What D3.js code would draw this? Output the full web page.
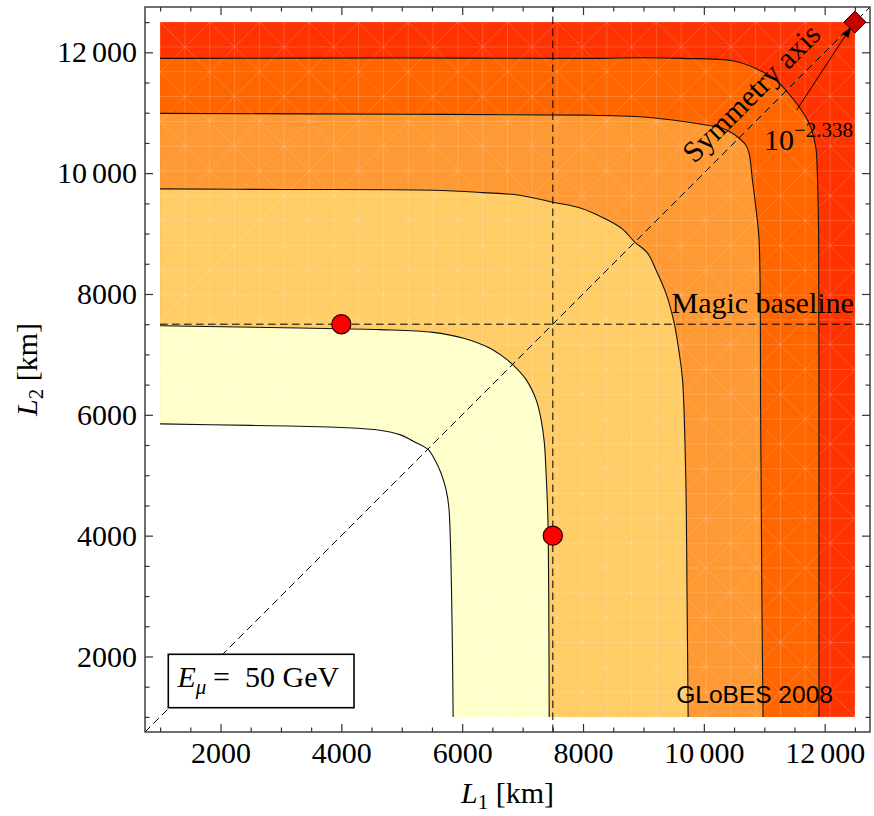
<!DOCTYPE html>
<html>
<head>
<meta charset="utf-8">
<script src="https://cdn.jsdelivr.net/npm/d3@7"></script>
<style>
  html, body { margin: 0; padding: 0; background: #fff; }
  svg { display: block; }
</style>
</head>
<body>
<svg id="chart" width="874" height="816"></svg>
<script>
// ---- data: iso-contours of the performance indicator in the (L1, L2) plane [km]
// each contour runs from the left edge (L1 = 1000) to the bottom edge (L2 = 1000)
const contour1 = [[1000,5850],[2500,5825],[3300,5810],[4000,5790],[4636,5745],[4968,5672],[5190,5562],
  [5439,5424],[5549,5252],[5651,5032],[5734,4756],[5778,4479],[5801,4039],[5825,3000],[5840,2000],[5850,1000]];
const contour2 = [[1000,7474],[3300,7436],[4636,7410],[5514,7365],[6010,7271],[6451,7106],[6671,6967],
  [6837,6830],[7058,6582],[7223,6251],[7306,5921],[7360,5536],[7388,5040],[7418,4300],[7432,3000],[7440,1000]];
const contour3 = [[1000,9739],[3000,9730],[5514,9717],[6340,9678],[6947,9635],[7498,9519],[7967,9420],
  [8380,9238],[8655,9073],[8848,8868],[9068,8676],[9207,8400],[9372,8015],[9509,7519],[9592,7023],
  [9647,6582],[9700,5000],[9722,3000],[9740,1000]];
const contour4 = [[1000,10990],[5000,10975],[8000,10960],[8931,10934],[9481,10880],[10033,10797],
  [10308,10742],[10473,10659],[10583,10577],[10694,10466],[10749,10329],[10804,9888],[10859,9446],
  [10914,8896],[10940,6000],[10960,3000],[10980,1000]];
const contour5 = [[1000,11900],[5000,11905],[8269,11900],[8931,11910],[9646,11899],[10473,11860],
  [10859,11734],[11190,11541],[11355,11376],[11575,11099],[11741,10825],[11851,10439],[11878,9998],
  [11900,8896],[11905,5000],[11905,1000]];

const baselinePoints = [[4000,7500],[7500,4000]];   // marked (L1, L2) setups
const optimumPoint = [12500,12500];                 // optimum on the symmetry axis
const optimumExponent = "\u22122.338";              // 10^-2.338
const magicBaseline = 7500;
const energyLabel = "50 GeV";

const xMajorTicks = [2000,4000,6000,8000,10000,12000];
const yMajorTicks = [2000,4000,6000,8000,10000,12000];
const minorTicks = [1000,1500,2500,3000,3500,4500,5000,5500,6500,7000,7500,8500,9000,9500,
  10500,11000,11500,12500];

// ---- styling
const bandColors = ["#FF3300","#FF6600","#FF9933","#FFCC66","#FFFFCC","#FFFFFF"];
const serif = "'Liberation Serif','Times New Roman',serif";
const sans = "'Liberation Sans',Arial,Helvetica,sans-serif";

const svg = d3.select("#chart");
const x = d3.scaleLinear().domain([750,12750]).range([145,870]);
const y = d3.scaleLinear().domain([750,12750]).range([732,7]);
const dataMin = 1000, dataMax = 12500;

svg.append("clipPath").attr("id","dataClip").append("rect")
  .attr("x", x(dataMin)).attr("y", y(dataMax))
  .attr("width", x(dataMax) - x(dataMin)).attr("height", y(dataMin) - y(dataMax));
svg.append("clipPath").attr("id","frameClip").append("rect")
  .attr("x", 145).attr("y", 7).attr("width", 725).attr("height", 725);

const line = d3.line().x(d => x(d[0])).y(d => y(d[1])).curve(d3.curveCatmullRom.alpha(0.5));

// ---- filled bands
const fills = svg.append("g").attr("clip-path","url(#dataClip)");
fills.append("rect")
  .attr("x", x(dataMin)).attr("y", y(dataMax))
  .attr("width", x(dataMax) - x(dataMin)).attr("height", y(dataMin) - y(dataMax))
  .attr("fill", bandColors[0]);
const contours = [contour5, contour4, contour3, contour2, contour1];
contours.forEach((c, i) => {
  fills.append("path")
    .attr("d", line(c) + `L${x(dataMin)},${y(dataMin)}Z`)
    .attr("fill", bandColors[i + 1]);
});

// faint polygon seams of the rendered mesh
const mesh = svg.append("g").attr("clip-path","url(#dataClip)")
  .attr("stroke","#fff").attr("stroke-opacity",0.22).attr("stroke-width",0.8);
const nCells = 28, cell = (dataMax - dataMin) / nCells;
for (let i = 1; i < nCells; i++) {
  const v = dataMin + i * cell;
  mesh.append("line").attr("x1",x(v)).attr("x2",x(v)).attr("y1",y(dataMin)).attr("y2",y(dataMax));
  mesh.append("line").attr("y1",y(v)).attr("y2",y(v)).attr("x1",x(dataMin)).attr("x2",x(dataMax));
}
for (let k = -nCells; k <= nCells; k += 2) {
  const o = k * cell;
  mesh.append("line").attr("x1",x(dataMin)).attr("y1",y(dataMin + o))
    .attr("x2",x(dataMax)).attr("y2",y(dataMax + o));
  mesh.append("line").attr("x1",x(dataMin)).attr("y1",y(dataMax + o))
    .attr("x2",x(dataMax)).attr("y2",y(dataMin + o));
}

// ---- contour lines
const lines = svg.append("g").attr("clip-path","url(#dataClip)");
contours.forEach(c => {
  lines.append("path").attr("d", line(c)).attr("fill","none")
    .attr("stroke","#111").attr("stroke-width",1.1);
});

// ---- dashed guides: magic baseline (both detectors) and symmetry axis
const guides = svg.append("g").attr("clip-path","url(#frameClip)")
  .attr("stroke","#000").attr("stroke-width",1).attr("stroke-dasharray","7.5,4.5").attr("fill","none");
guides.append("line").attr("x1",x(dataMin)).attr("x2",x(12750))
  .attr("y1",y(magicBaseline)).attr("y2",y(magicBaseline));
guides.append("line").attr("x1",x(magicBaseline)).attr("x2",x(magicBaseline))
  .attr("y1",y(750)).attr("y2",y(12750));
guides.append("line").attr("x1",x(750)).attr("y1",y(750)).attr("x2",x(12750)).attr("y2",y(12750));

// ---- marked baselines
svg.append("g").selectAll("circle").data(baselinePoints).join("circle")
  .attr("cx", d => x(d[0])).attr("cy", d => y(d[1])).attr("r", 9.6)
  .attr("fill","#FF0000").attr("stroke","#2a0000").attr("stroke-width",1.2);

// ---- labels inside the plot
svg.append("text")
  .attr("x", x(dataMax) - 1).attr("y", y(magicBaseline) - 11)
  .attr("text-anchor","end").attr("font-family",serif).attr("font-size",30)
  .text("Magic baseline");

const axisPt = [x(11055), y(11055)];
const off = 13 / Math.SQRT2;
svg.append("text")
  .attr("transform", `translate(${axisPt[0] - off},${axisPt[1] - off}) rotate(-45)`)
  .attr("text-anchor","middle").attr("font-family",serif).attr("font-size",30)
  .text("Symmetry axis");

// arrow from the optimum value to the optimum point
const a0 = [x(11537), y(11045)], a1 = [x(12440), y(12425)];
const dx = a1[0] - a0[0], dy = a1[1] - a0[1], len = Math.hypot(dx, dy);
const ux = dx / len, uy = dy / len, hl = 11, hw = 3.8;
svg.append("line").attr("x1",a0[0]).attr("y1",a0[1])
  .attr("x2",a1[0] - ux * hl).attr("y2",a1[1] - uy * hl)
  .attr("stroke","#000").attr("stroke-width",1);
svg.append("path")
  .attr("d", `M${a1[0]},${a1[1]}L${a1[0] - ux*hl - uy*hw},${a1[1] - uy*hl + ux*hw}` +
             `L${a1[0] - ux*hl + uy*hw},${a1[1] - uy*hl - ux*hw}Z`)
  .attr("fill","#000");

const optText = svg.append("text").attr("x", 764).attr("y", 150)
  .attr("font-family",serif).attr("font-size",30);
optText.append("tspan").text("10");
optText.append("tspan").attr("font-size",21).attr("dy",-13).text(optimumExponent);

// optimum marker
const oc = [x(optimumPoint[0]), y(optimumPoint[1])], r = 11;
svg.append("path")
  .attr("d", `M${oc[0]},${oc[1]-r}L${oc[0]+r},${oc[1]}L${oc[0]},${oc[1]+r}L${oc[0]-r},${oc[1]}Z`)
  .attr("fill","#C80000").attr("stroke","#220000").attr("stroke-width",1);

svg.append("text")
  .attr("x", x(dataMax) - 22).attr("y", y(dataMin) - 14)
  .attr("text-anchor","end").attr("font-family",sans).attr("font-size",24.5)
  .text("GLoBES 2008");

// ---- energy box
svg.append("rect").attr("x",168.3).attr("y",654.3).attr("width",185.7).attr("height",53.4)
  .attr("fill","#fff").attr("stroke","#000").attr("stroke-width",1.6);
const eText = svg.append("text").attr("x",177.5).attr("y",687.3)
  .attr("font-family",serif).attr("font-size",30);
eText.append("tspan").attr("font-style","italic").text("E");
eText.append("tspan").attr("font-style","italic").attr("font-size",21).attr("dy",7).text("\u03bc");
eText.append("tspan").attr("dy",-7).attr("x",213).text("=");
eText.append("tspan").attr("x",245).text(energyLabel);

// ---- frame and ticks
const frameColor = "#333";
function styleAxis(g) {
  g.select(".domain").remove();
  g.selectAll("line").attr("stroke",frameColor).attr("stroke-width",1.2);
  g.selectAll("text").attr("font-family",serif).attr("font-size",30).attr("fill","#000");
}
function tickText(sel) {
  sel.each(function(d) {
    const t = d3.select(this);
    t.text(null);
    if (d >= 10000) {
      const s = String(d);
      t.append("tspan").text(s.slice(0, -3));
      t.append("tspan").attr("dx","0.17em").text(s.slice(-3));
    } else {
      t.text(String(d));
    }
  });
}
const bottom = svg.append("g").attr("transform",`translate(0,732)`)
  .call(d3.axisBottom(x).tickValues(xMajorTicks).tickSizeInner(-8).tickSizeOuter(0).tickPadding(10));
styleAxis(bottom); bottom.selectAll("text").call(tickText);
const bottomMinor = svg.append("g").attr("transform",`translate(0,732)`)
  .call(d3.axisBottom(x).tickValues(minorTicks).tickSize(-4.5).tickFormat(""));
styleAxis(bottomMinor);

const left = svg.append("g").attr("transform",`translate(145,0)`)
  .call(d3.axisLeft(y).tickValues(yMajorTicks).tickSizeInner(-8).tickSizeOuter(0).tickPadding(8));
styleAxis(left); left.selectAll("text").call(tickText);
const leftMinor = svg.append("g").attr("transform",`translate(145,0)`)
  .call(d3.axisLeft(y).tickValues(minorTicks).tickSize(-4.5).tickFormat(""));
styleAxis(leftMinor);

[[d3.axisTop(x), xMajorTicks, -8, "translate(0,7)"], [d3.axisTop(x), minorTicks, -4.5, "translate(0,7)"],
 [d3.axisRight(y), yMajorTicks, -8, "translate(870,0)"], [d3.axisRight(y), minorTicks, -4.5, "translate(870,0)"]]
  .forEach(([ax, tv, ts, tr]) => {
    const g = svg.append("g").attr("transform", tr)
      .call(ax.tickValues(tv).tickSize(ts).tickFormat(""));
    styleAxis(g);
  });

svg.append("rect").attr("x",145).attr("y",7).attr("width",725).attr("height",725)
  .attr("fill","none").attr("stroke",frameColor).attr("stroke-width",1.4);

// ---- axis titles
const xt = svg.append("text").attr("x",507.5).attr("y",803)
  .attr("text-anchor","middle").attr("font-family",serif).attr("font-size",30);
xt.append("tspan").attr("font-style","italic").text("L");
xt.append("tspan").attr("font-size",21).attr("dy",6).text("1");
xt.append("tspan").attr("dy",-6).text(" [km]");

const yt = svg.append("text").attr("transform","translate(37,369.5) rotate(-90)")
  .attr("text-anchor","middle").attr("font-family",serif).attr("font-size",30);
yt.append("tspan").attr("font-style","italic").text("L");
yt.append("tspan").attr("font-size",21).attr("dy",6).text("2");
yt.append("tspan").attr("dy",-6).text(" [km]");
</script>
</body>
</html>
